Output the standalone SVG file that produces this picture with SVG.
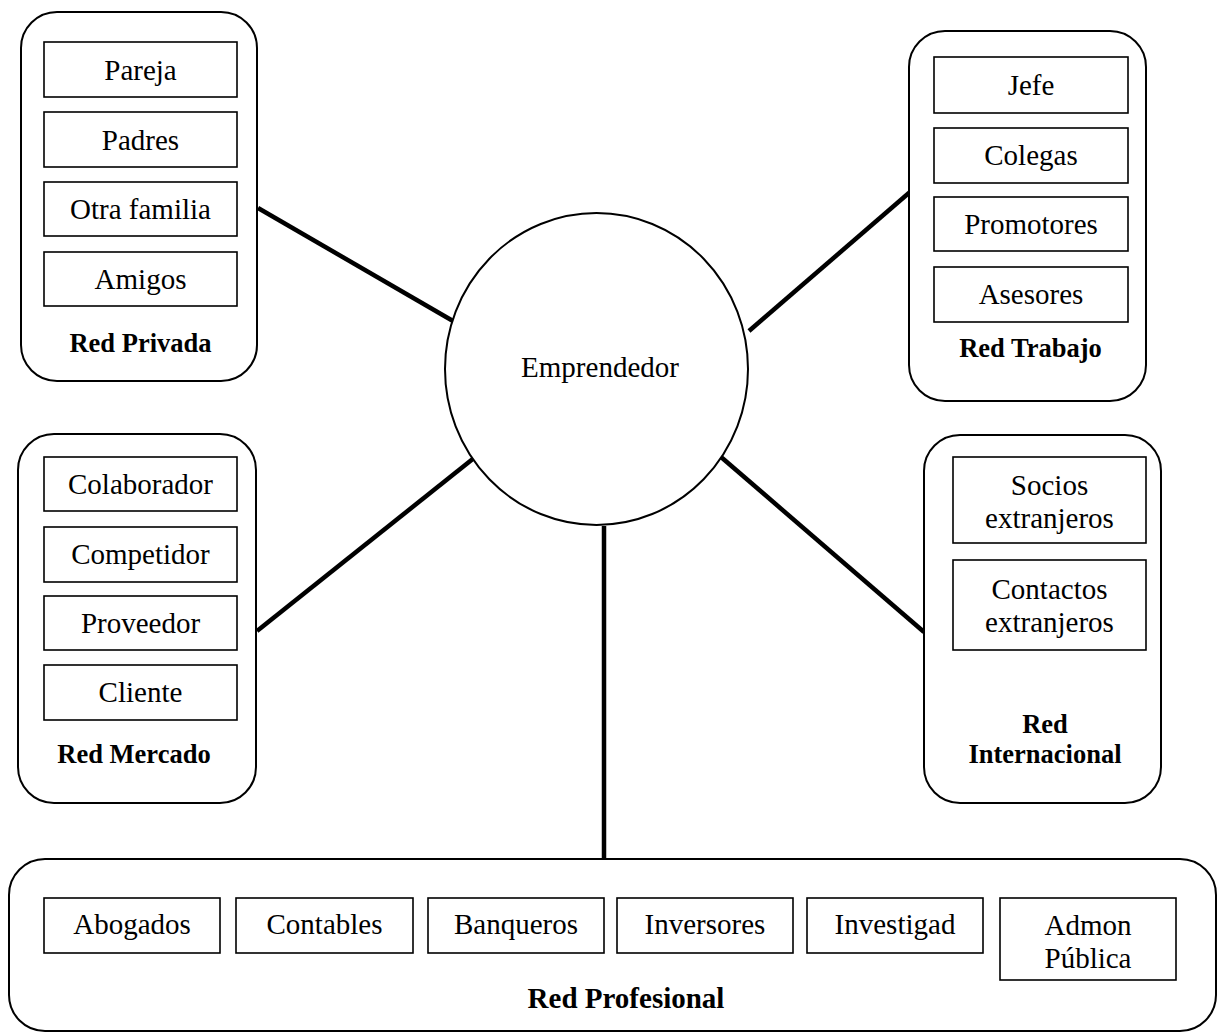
<svg xmlns="http://www.w3.org/2000/svg" width="1218" height="1034" viewBox="0 0 1218 1034">
<style>
.outer{fill:#fff;stroke:#000;stroke-width:2}
.box{fill:#fff;stroke:#000;stroke-width:1.6}
.t{font-family:"Liberation Serif","Times New Roman",serif;font-size:29px;fill:#000;text-anchor:middle}
.h{font-family:"Liberation Serif","Times New Roman",serif;font-size:26.5px;font-weight:bold;fill:#000;text-anchor:middle}
.con{stroke:#000;stroke-width:4.5;fill:none;stroke-linecap:butt}
</style>
<rect width="1218" height="1034" fill="#fff"/>
<g id="connectors">
<line class="con" x1="258" y1="208" x2="453" y2="321"/>
<line class="con" x1="910" y1="192" x2="749" y2="331"/>
<line class="con" x1="257" y1="631" x2="474" y2="458"/>
<line class="con" x1="721" y1="457" x2="924" y2="632"/>
<line class="con" x1="604" y1="526" x2="604" y2="859"/>
</g>
<g id="emprendedor">
<ellipse cx="596.5" cy="369" rx="151.5" ry="156" fill="#fff" stroke="#000" stroke-width="2"/>
<text class="t" x="600" y="377">Emprendedor</text>
</g>
<g id="red-privada">
<rect class="outer" x="21" y="12" width="236" height="369" rx="36"/>
<rect class="box" x="44" y="42" width="193" height="55"/><text class="t" x="140.5" y="80">Pareja</text>
<rect class="box" x="44" y="112" width="193" height="55"/><text class="t" x="140.5" y="150">Padres</text>
<rect class="box" x="44" y="182" width="193" height="54"/><text class="t" x="140.5" y="219">Otra familia</text>
<rect class="box" x="44" y="252" width="193" height="54"/><text class="t" x="140.5" y="289">Amigos</text>
<text class="h" x="140.5" y="352">Red Privada</text>
</g>
<g id="red-trabajo">
<rect class="outer" x="909" y="31" width="237" height="370" rx="36"/>
<rect class="box" x="934" y="57" width="194" height="56"/><text class="t" x="1031" y="95">Jefe</text>
<rect class="box" x="934" y="128" width="194" height="55"/><text class="t" x="1031" y="165">Colegas</text>
<rect class="box" x="934" y="197" width="194" height="54"/><text class="t" x="1031" y="234">Promotores</text>
<rect class="box" x="934" y="267" width="194" height="55"/><text class="t" x="1031" y="304">Asesores</text>
<text class="h" x="1030.5" y="357">Red Trabajo</text>
</g>
<g id="red-mercado">
<rect class="outer" x="18" y="434" width="238" height="369" rx="36"/>
<rect class="box" x="44" y="457" width="193" height="54"/><text class="t" x="140.5" y="494">Colaborador</text>
<rect class="box" x="44" y="527" width="193" height="55"/><text class="t" x="140.5" y="564">Competidor</text>
<rect class="box" x="44" y="596" width="193" height="54"/><text class="t" x="140.5" y="633">Proveedor</text>
<rect class="box" x="44" y="665" width="193" height="55"/><text class="t" x="140.5" y="702">Cliente</text>
<text class="h" x="134" y="763">Red Mercado</text>
</g>
<g id="red-internacional">
<rect class="outer" x="924" y="435" width="237" height="368" rx="36"/>
<rect class="box" x="953" y="457" width="193" height="86"/>
<text class="t" x="1049.5" y="495">Socios</text><text class="t" x="1049.5" y="528">extranjeros</text>
<rect class="box" x="953" y="560" width="193" height="90"/>
<text class="t" x="1049.5" y="599">Contactos</text><text class="t" x="1049.5" y="632">extranjeros</text>
<text class="h" x="1045" y="733">Red</text>
<text class="h" x="1045" y="763">Internacional</text>
</g>
<g id="red-profesional">
<rect class="outer" x="9" y="859" width="1207" height="172" rx="36"/>
<rect class="box" x="44" y="898" width="176" height="55"/><text class="t" x="132" y="934">Abogados</text>
<rect class="box" x="236" y="898" width="177" height="55"/><text class="t" x="324.5" y="934">Contables</text>
<rect class="box" x="428" y="898" width="176" height="55"/><text class="t" x="516" y="934">Banqueros</text>
<rect class="box" x="617" y="898" width="176" height="55"/><text class="t" x="705" y="934">Inversores</text>
<rect class="box" x="807" y="898" width="176" height="55"/><text class="t" x="895" y="934">Investigad</text>
<rect class="box" x="1000" y="898" width="176" height="82"/>
<text class="t" x="1088" y="935">Admon</text><text class="t" x="1088" y="968">Pública</text>
<text class="h" x="626" y="1008" style="font-size:29px">Red Profesional</text>
</g>
</svg>
